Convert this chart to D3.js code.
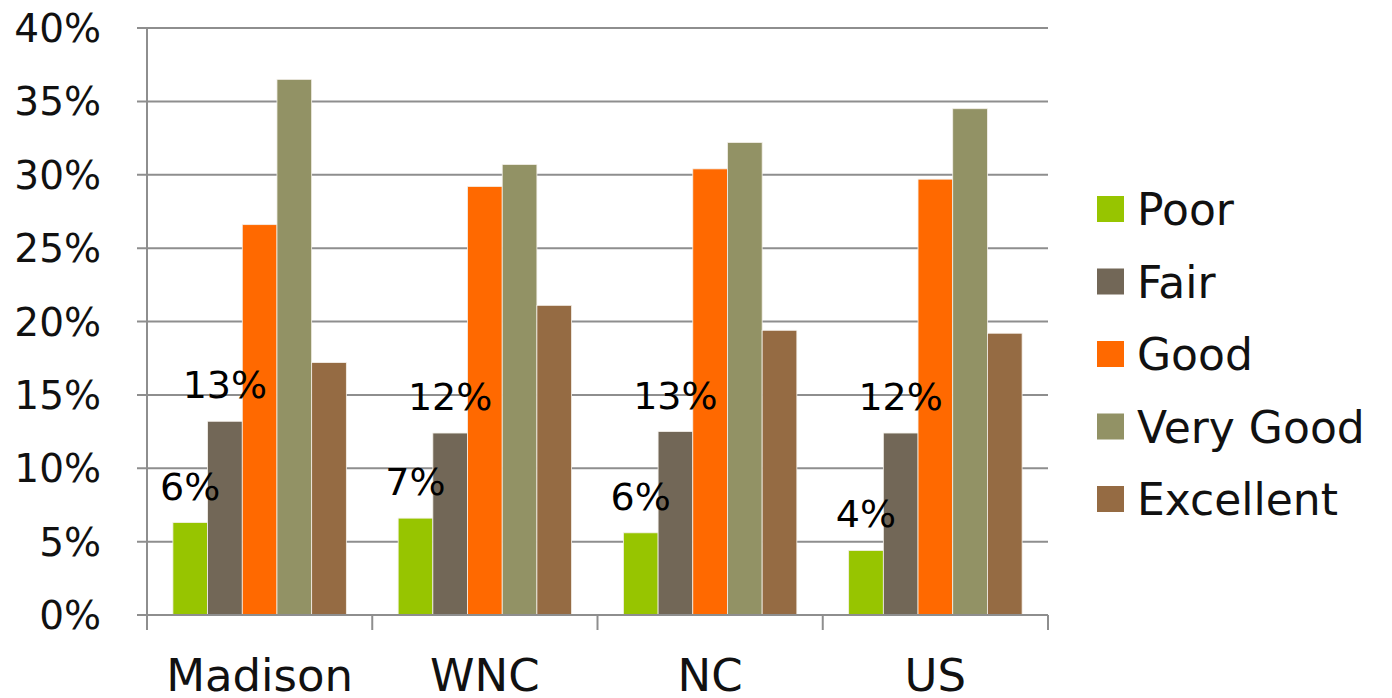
<!DOCTYPE html>
<html>
<head>
<meta charset="utf-8">
<script src="https://cdn.jsdelivr.net/npm/d3@7"></script>
<style>
  body { margin: 0; background: #fff; }
  svg { display: block; font-family: "DejaVu Sans", sans-serif; }
</style>
</head>
<body>
<div id="chart"></div>
<script>
// Data
const regions = ["Madison", "WNC", "NC", "US"];
const ratings = ["Poor", "Fair", "Good", "Very Good", "Excellent"];
const colors = ["#97c500", "#726757", "#ff6900", "#929265", "#956b43"];
const poor = [0.063, 0.066, 0.056, 0.044];
const fair = [0.132, 0.124, 0.125, 0.124];
const good = [0.266, 0.292, 0.304, 0.297];
const veryGood = [0.365, 0.307, 0.322, 0.345];
const excellent = [0.172, 0.211, 0.194, 0.192];
const poorLabels = ["6%", "7%", "6%", "4%"];
const fairLabels = ["13%", "12%", "13%", "12%"];
const yTicks = [0, 0.05, 0.10, 0.15, 0.20, 0.25, 0.30, 0.35, 0.40];

const seriesValues = [poor, fair, good, veryGood, excellent];

// Set up SVG dimensions
const totalWidth = 1392, totalHeight = 698;
const margin = { top: 28, right: 344, bottom: 83, left: 147 };
const width = totalWidth - margin.left - margin.right;
const height = totalHeight - margin.top - margin.bottom;

const svg = d3.select("#chart")
    .append("svg")
    .attr("width", totalWidth)
    .attr("height", totalHeight);

const g = svg.append("g")
    .attr("transform", `translate(${margin.left},${margin.top})`);

// Scales
const x0 = d3.scaleBand().domain(regions).range([0, width]).paddingInner(0).paddingOuter(0);
const x1 = d3.scaleBand().domain(ratings).range([x0.bandwidth() * 0.115, x0.bandwidth() * 0.885]);
const y = d3.scaleLinear().domain([0, 0.4]).range([height, 0]);

// Gridlines
g.append("g")
    .selectAll("line")
    .data(yTicks)
    .join("line")
    .attr("x1", -10)
    .attr("x2", width)
    .attr("y1", d => y(d))
    .attr("y2", d => y(d))
    .style("stroke", "#8e8e8e")
    .style("stroke-width", 2);

// Y axis labels
g.append("g")
    .selectAll("text")
    .data(yTicks)
    .join("text")
    .attr("x", -46)
    .attr("y", d => y(d) + 14)
    .attr("text-anchor", "end")
    .style("font-size", "39px")
    .style("fill", "#111")
    .text(d => d3.format(".0%")(d));

// Bars
regions.forEach((region, ri) => {
    const grp = g.append("g").attr("transform", `translate(${x0(region)},0)`);
    ratings.forEach((rating, si) => {
        grp.append("rect")
            .attr("x", x1(rating))
            .attr("y", y(seriesValues[si][ri]))
            .attr("width", x1.bandwidth())
            .attr("height", y(0) - y(seriesValues[si][ri]))
            .style("fill", colors[si])
            .style("stroke", "#f4f0ea")
            .style("stroke-width", 0.8);
    });
    // Data labels for Poor and Fair only
    [[poor, poorLabels, "Poor"], [fair, fairLabels, "Fair"]].forEach(([vals, labels, rating]) => {
        grp.append("text")
            .attr("x", x1(rating) + x1.bandwidth() / 2)
            .attr("y", y(vals[ri]) - 23)
            .attr("text-anchor", "middle")
            .style("font-size", "38px")
            .style("fill", "#000")
            .text(labels[ri]);
    });
});

// Axes lines
g.append("line")
    .attr("x1", 0).attr("x2", 0)
    .attr("y1", 0).attr("y2", height + 15)
    .style("stroke", "#8e8e8e").style("stroke-width", 2);
g.append("line")
    .attr("x1", 0).attr("x2", width)
    .attr("y1", height).attr("y2", height)
    .style("stroke", "#8e8e8e").style("stroke-width", 2);

// Category tick marks
g.append("g")
    .selectAll("line")
    .data(regions.concat(["end"]))
    .join("line")
    .attr("x1", (d, i) => i < regions.length ? x0(d) : width)
    .attr("x2", (d, i) => i < regions.length ? x0(d) : width)
    .attr("y1", height)
    .attr("y2", height + 15)
    .style("stroke", "#8e8e8e")
    .style("stroke-width", 2);

// Category labels
g.append("g")
    .selectAll("text")
    .data(regions)
    .join("text")
    .attr("x", d => x0(d) + x0.bandwidth() / 2)
    .attr("y", height + 76)
    .attr("text-anchor", "middle")
    .style("font-size", "45px")
    .style("fill", "#111")
    .text(d => d);

// Legend
const legend = svg.append("g").attr("transform", "translate(1097, 196)");
ratings.forEach((rating, i) => {
    const row = legend.append("g").attr("transform", `translate(0, ${i * 72.5})`);
    row.append("rect")
        .attr("width", 27)
        .attr("height", 26)
        .style("fill", colors[i]);
    row.append("text")
        .attr("x", 40)
        .attr("y", 29)
        .style("font-size", "44px")
        .style("fill", "#111")
        .text(rating);
});
</script>
</body>
</html>
